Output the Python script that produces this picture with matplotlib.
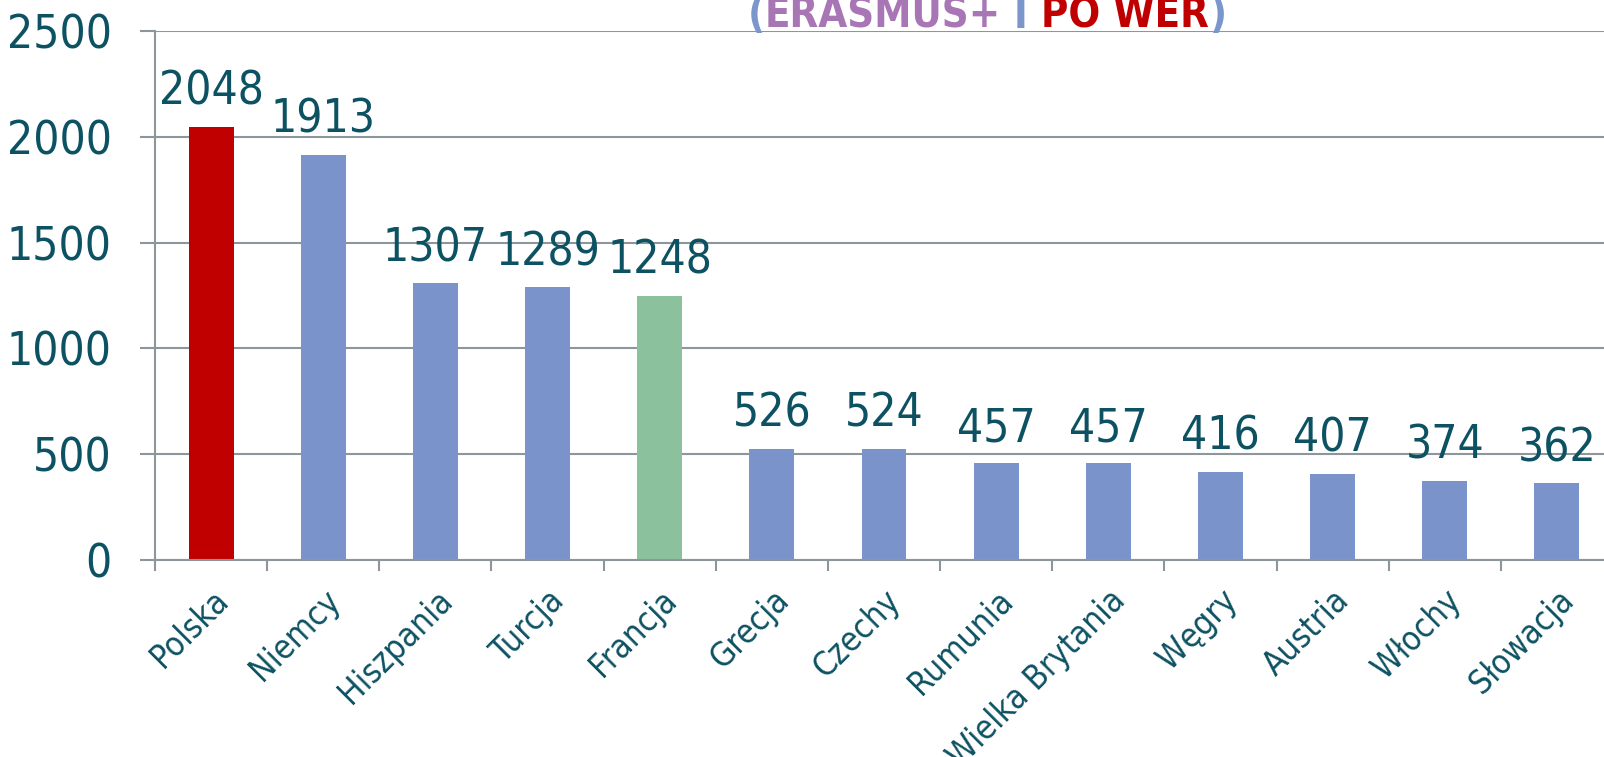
import numpy as np
import matplotlib
matplotlib.use('Agg')
import matplotlib.pyplot as plt

plt.rcParams['font.family'] = ['DejaVu Sans']
plt.rcParams['font.stretch'] = 'condensed'

# dane
kraje = ['Polska', 'Niemcy', 'Hiszpania', 'Turcja', 'Francja', 'Grecja', 'Czechy',
         'Rumunia', 'Wielka Brytania', 'Węgry', 'Austria', 'Włochy', 'Słowacja']
wartosci = [2048, 1913, 1307, 1289, 1248, 526, 524, 457, 457, 416, 407, 374, 362]
kolory = ['#C00000', '#7A94CB', '#7A94CB', '#7A94CB', '#8BC29D', '#7A94CB', '#7A94CB',
          '#7A94CB', '#7A94CB', '#7A94CB', '#7A94CB', '#7A94CB', '#7A94CB']
yticks = [0, 500, 1000, 1500, 2000, 2500]

tekst = '#0D5262'
szary = '#8C969B'

fig = plt.figure(figsize=(16.04, 7.57), dpi=100)
ax = fig.add_axes([155/1604, 1-560/757, 1458/1604, 529/757])

x = np.arange(len(kraje))
ax.bar(x, wartosci, width=0.4, color=kolory, zorder=3)
ax.set_xlim(-0.5, len(kraje)-0.5)
ax.set_ylim(0, 2500)
ax.set_yticks(yticks)
ax.set_yticklabels([str(v) for v in yticks], fontsize=33, color=tekst)
ax.grid(axis='y', color=szary, linewidth=1.5, zorder=0)
ax.set_axisbelow(True)
for s in ['top', 'right']:
    ax.spines[s].set_visible(False)
for s in ['left', 'bottom']:
    ax.spines[s].set_color(szary)
    ax.spines[s].set_linewidth(1.5)
    ax.spines[s].set_zorder(4)
ax.tick_params(axis='y', length=11, width=1.5, color=szary, pad=20)

ax.set_xticks(x)
ax.set_xticklabels(kraje, rotation=45, ha='right', rotation_mode='anchor',
                   fontsize=24, color=tekst)
ax.tick_params(axis='x', which='major', length=0, pad=17)
ax.set_xticks(np.arange(-0.5, len(kraje)), minor=True)
ax.tick_params(axis='x', which='minor', length=8, width=1.5, color=szary)

for i, v in enumerate(wartosci):
    ax.annotate(str(v), (i, v), xytext=(0, 16), textcoords='offset points',
                ha='center', va='baseline', fontsize=33, color=tekst)

# tytul (widoczna tylko dolna linia)
czesci = [('(', '#7B96CC'), ('ERASMUS+', '#A875B5'), (' I ', '#7B96CC'),
          ('PO WER', '#C00000'), (')', '#7B96CC')]
fig.canvas.draw()
r = fig.canvas.get_renderer()
xp = 748/1604
for s, c in czesci:
    t = fig.text(xp, 1-28/757, s, color=c, fontsize=30, fontweight='bold',
                 ha='left', va='baseline')
    bb = t.get_window_extent(renderer=r)
    xp += bb.width/1604

fig.savefig('out.png', dpi=100)
